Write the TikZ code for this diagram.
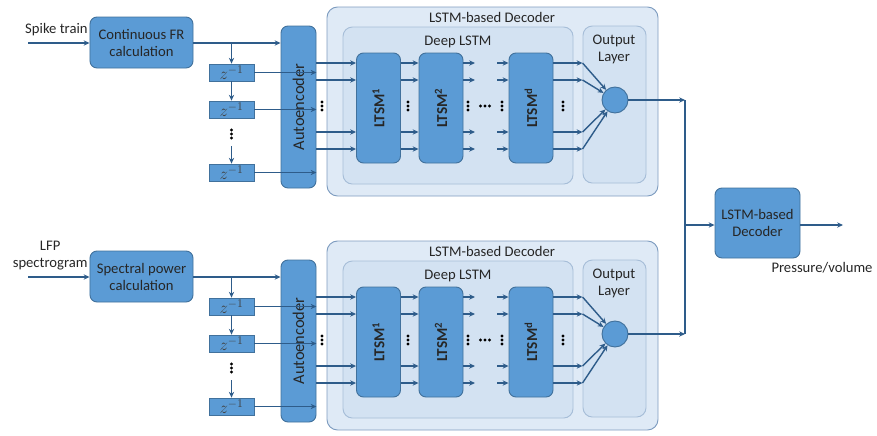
\documentclass[tikz,border=0pt]{standalone}
\usepackage{fontspec}
\setmainfont{Carlito}
\usetikzlibrary{arrows.meta,fit}

\definecolor{boxblue}{HTML}{5B9BD5}
\definecolor{boxedge}{HTML}{41719C}
\definecolor{wirecol}{HTML}{2E5C8A}
\definecolor{panelout}{HTML}{DFEAF6}
\definecolor{panelin}{HTML}{D3E2F2}
\definecolor{paneledge}{HTML}{7F9DC0}
\definecolor{paneledgein}{HTML}{A7BED8}

\tikzset{
  txt/.style={font=\fontsize{12.5}{14.5}\selectfont, text=black!85},
  blk/.style={draw=boxedge, fill=boxblue, rounded corners=6pt, line width=0.8pt,
    align=center, inner sep=0, txt},
  zbox/.style={draw=boxedge, fill=boxblue, line width=0.6pt, inner sep=0,
    minimum width=1.35cm, minimum height=0.51cm, font=\fontsize{14}{16}\selectfont, text=black!75},
  lstm/.style={blk, rotate=90, minimum width=3.3cm, minimum height=1.32cm,
    font=\fontsize{13}{15}\selectfont\bfseries},
  panelbox/.style={draw=paneledge, fill=panelout, rounded corners=9pt, line width=0.8pt, inner sep=0},
  innerbox/.style={draw=paneledgein, fill=panelin, rounded corners=8pt, line width=0.8pt, inner sep=0},
  wire/.style={draw=wirecol, line width=1.2pt, -{Stealth[length=5pt,width=4.5pt]}},
  bus/.style={draw=wirecol, line width=1.2pt},
}

\begin{document}
\begin{tikzpicture}[x=0.03cm,y=-0.03cm]
  \useasboundingbox (0,0) rectangle (877,435);

  % two identical branches, the second one shifted down
  \foreach \br/\dy/\src/\calcname in {t/0/{Spike train}/{Continuous FR\\calculation},
                                      b/234/{LFP\\spectrogram}/{Spectral power\\calculation}} {
  \begin{scope}[yshift=-\dy*0.03cm]
    % decoder panels
    \node[panelbox, fit={(327,7)(658,196)}] (dec\br) {};
    \node[txt] (dectitle\br) at (492,17) {LSTM-based Decoder};
    \node[innerbox, fit={(343,27)(573,184)}] (deep\br) {};
    \node[txt] (deeptitle\br) at (458,42) {Deep LSTM};
    \node[innerbox, fit={(583,26)(646,183)}] (out\br) {};
    \node[txt, align=center] (outtitle\br) at (614,49) {Output\\Layer};

    % input side
    \node[txt, align=center, anchor=south east, inner sep=1pt] (src\br) at (89,37) {\src};
    \coordinate (in\br) at (28,43);
    \node[blk, minimum width=3.09cm, minimum height=1.53cm] (fr\br) at (141.5,42.5) {\calcname};
    \node[blk, rotate=90, minimum width=4.86cm, minimum height=1.05cm,
          font=\fontsize{14}{16}\selectfont] (ae\br) at (298.5,107) {Autoencoder};
    \draw[wire] (in\br) -- (fr\br.west |- in\br);
    \draw[wire] (fr\br.east |- in\br) -- (ae\br.north |- in\br);

    % delay line
    \node[zbox] (za\br) at (231.5,72.5) {$z^{-1}$};
    \node[zbox] (zb\br) at (231.5,109.5) {$z^{-1}$};
    \node[zbox] (zc\br) at (231.5,172.5) {$z^{-1}$};
    \coordinate (tap\br) at (za\br.north |- in\br);
    \coordinate (zgap\br) at (231.5,146);
    \draw[wire] (tap\br) -- (za\br.north);
    \draw[wire] (za\br.south) -- (zb\br.north);
    \draw[wire] (zgap\br) -- (zc\br.north);
    \foreach \k in {-4,0,4}
      \fill (231.5,134+\k) circle[radius=1.4pt];
    \foreach \z in {za,zb,zc}
      \draw[wire] (\z\br.east) -- (\z\br.east -| ae\br.south);

    % deep LSTM stack
    \node[lstm] (la\br) at (378.5,108) {LTSM\textsuperscript{1}};
    \node[lstm] (lb\br) at (441,108) {LTSM\textsuperscript{2}};
    \node[lstm] (ld\br) at (531,108) {LTSM\textsuperscript{d}};
    \node[circle, draw=boxedge, fill=boxblue, line width=0.8pt, minimum size=0.78cm, inner sep=0]
      (sum\br) at (615,100) {};

    \foreach \y in {63,80,132,149} {
      \draw[wire] (ae\br.south |- 0,\y) -- (la\br.north |- 0,\y);
      \draw[wire] (la\br.south |- 0,\y) -- (lb\br.north |- 0,\y);
      \draw[wire] (lb\br.south |- 0,\y) -- (475,\y);
      \draw[wire] (497,\y) -- (ld\br.north |- 0,\y);
      \draw[wire] (ld\br.south |- 0,\y) -- (out\br.west |- 0,\y);
      \draw[wire] (out\br.west |- 0,\y) -- (sum\br);
    }
    % dots between the wires
    \foreach \x in {322,408,468,502,563}
      \foreach \k in {-4,0,4}
        \fill (\x,106+\k) circle[radius=1.4pt];
    \foreach \k in {-4.5,0,4.5}
      \fill (485+\k,106) circle[radius=1.4pt];

    \coordinate (j\br) at (685,100);
    \draw[wire] (sum\br) -- (j\br);
  \end{scope}
  }

  % merge both decoders
  \node[blk, minimum width=2.55cm, minimum height=2.1cm] (fin) at (757.5,223) {LSTM-based\\Decoder};
  \coordinate (res) at (843,225);
  \draw[bus] (jt) -- (jb);
  \draw[wire] (jt |- res) -- (fin.west |- res);
  \draw[wire] (fin.east |- res) -- (res);
  \node[txt] (resname) at (822,268) {Pressure/volume};
\end{tikzpicture}
\end{document}
